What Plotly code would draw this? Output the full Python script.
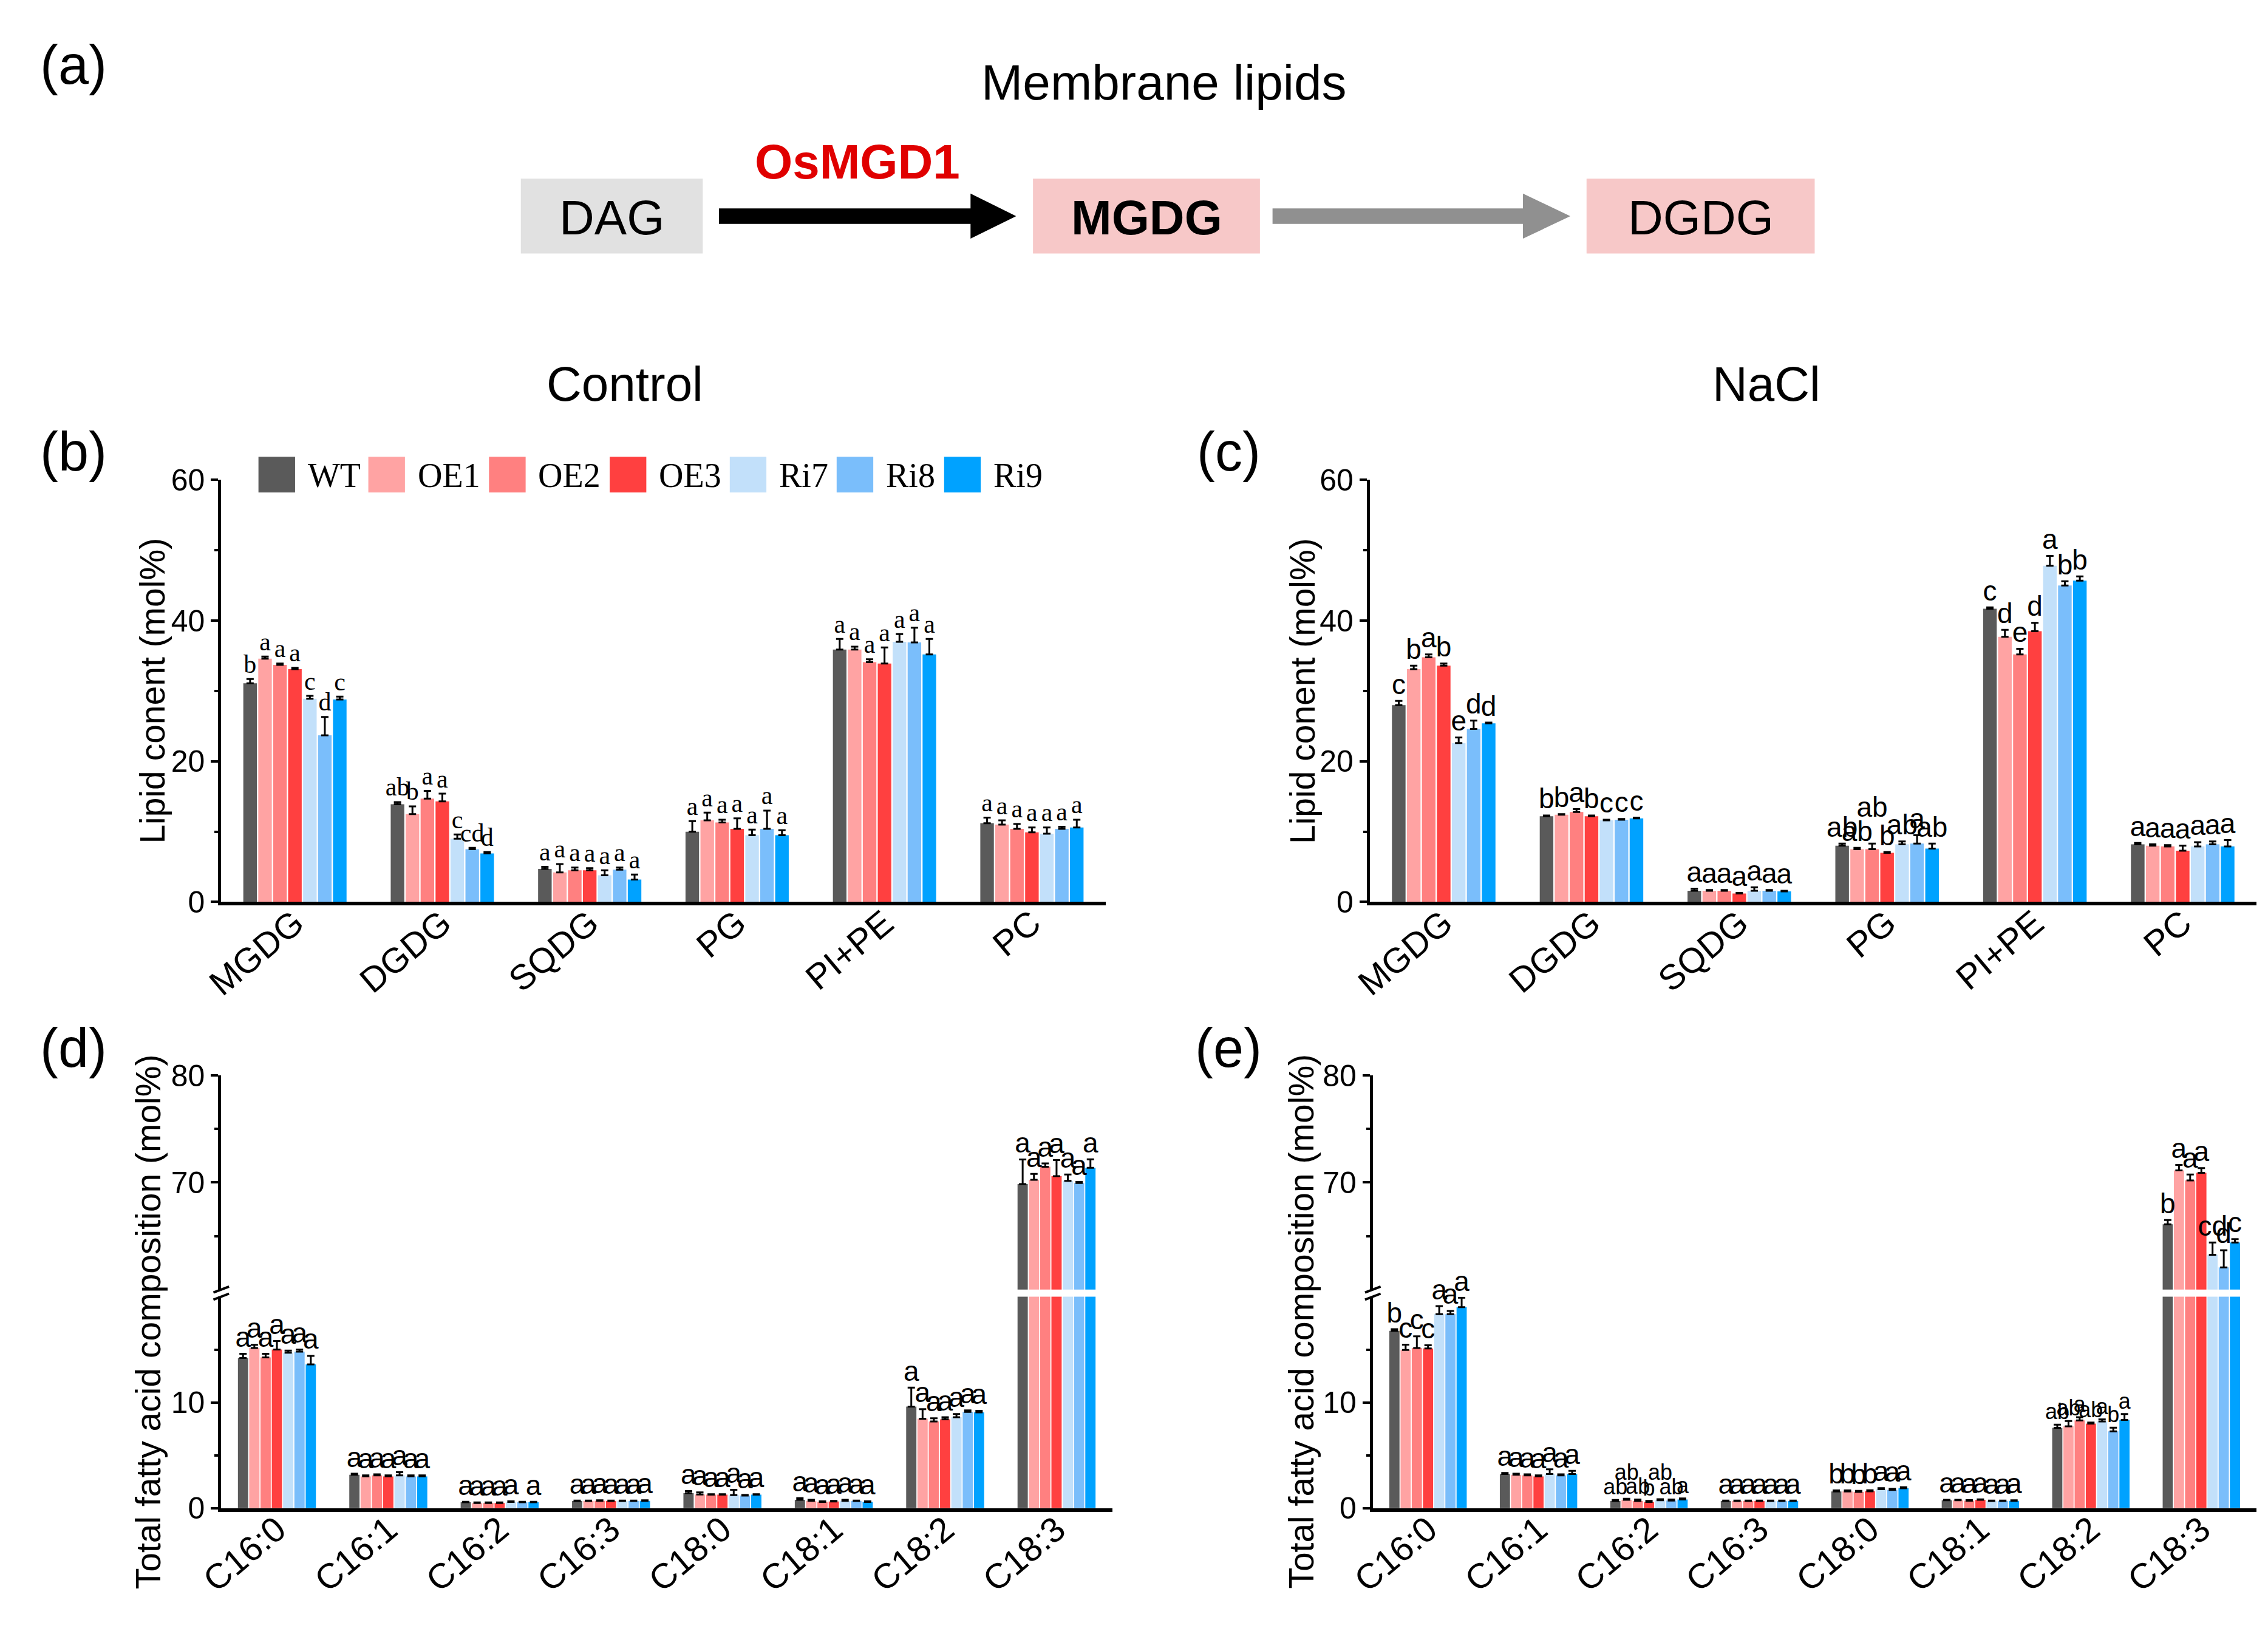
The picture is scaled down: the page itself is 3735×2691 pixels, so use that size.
import plotly.graph_objects as go

# genotypes and colours
groups = ["WT", "OE1", "OE2", "OE3", "Ri7", "Ri8", "Ri9"]
colors = ["#5a5a5a", "#ffa3a3", "#ff8080", "#ff4040", "#c2e0fa", "#7abefb", "#00a2ff"]

lipids = ["MGDG", "DGDG", "SQDG", "PG", "PI+PE", "PC"]
fatty = ["C16:0", "C16:1", "C16:2", "C16:3", "C18:0", "C18:1", "C18:2", "C18:3"]

# (b) control, lipid content (rows = lipid class, cols = genotype)
ctrl_lipid = [
    [31.1, 34.6, 33.7, 33.1, 28.9, 23.7, 28.8],
    [13.9, 12.5, 14.7, 14.3, 9.0, 7.5, 6.9],
    [4.7, 4.2, 4.5, 4.5, 3.8, 4.6, 3.2],
    [10.0, 11.6, 11.3, 10.4, 9.5, 10.4, 9.5],
    [35.9, 35.9, 34.1, 33.9, 37.0, 36.9, 35.2],
    [11.2, 11.0, 10.4, 9.9, 9.7, 10.4, 10.6],
]
ctrl_lipid_err = [
    [0.6, 0.3, 0.2, 0.2, 0.4, 2.6, 0.4],
    [0.3, 1.1, 1.1, 1.1, 0.6, 0.2, 0.2],
    [0.3, 1.2, 0.4, 0.3, 0.7, 0.3, 0.7],
    [1.5, 1.1, 0.4, 1.5, 0.8, 2.6, 0.7],
    [1.5, 0.4, 0.4, 2.3, 1.1, 2.1, 2.2],
    [0.8, 0.6, 0.7, 0.7, 0.9, 0.3, 1.1],
]
ctrl_lipid_sig = [
    ["b", "a", "a", "a", "c", "d", "c"],
    ["ab", "b", "a", "a", "c", "cd", "d"],
    ["a", "a", "a", "a", "a", "a", "a"],
    ["a", "a", "a", "a", "a", "a", "a"],
    ["a", "a", "a", "a", "a", "a", "a"],
    ["a", "a", "a", "a", "a", "a", "a"],
]

# (c) NaCl, lipid content
nacl_lipid = [
    [28.0, 33.1, 34.8, 33.6, 22.6, 24.6, 25.4],
    [12.2, 12.4, 12.8, 12.2, 11.6, 11.7, 11.9],
    [1.6, 1.6, 1.6, 1.2, 1.6, 1.6, 1.5],
    [8.0, 7.5, 7.5, 7.0, 8.2, 8.3, 7.6],
    [41.7, 37.7, 35.2, 38.5, 47.8, 45.0, 45.7],
    [8.2, 8.0, 7.9, 7.3, 7.9, 8.2, 7.9],
]
nacl_lipid_err = [
    [0.6, 0.5, 0.4, 0.3, 0.8, 1.2, 0.1],
    [0.1, 0.1, 0.4, 0.1, 0.1, 0.1, 0.1],
    [0.3, 0.1, 0.1, 0.1, 0.5, 0.1, 0.1],
    [0.3, 0.2, 0.8, 0.1, 0.4, 1.2, 0.7],
    [0.2, 1.0, 0.8, 1.2, 1.4, 0.6, 0.6],
    [0.2, 0.2, 0.2, 0.7, 0.6, 0.4, 0.9],
]
nacl_lipid_sig = [
    ["c", "b", "a", "b", "e", "d", "d"],
    ["b", "b", "a", "b", "c", "c", "c"],
    ["a", "a", "a", "a", "a", "a", "a"],
    ["ab", "ab", "ab", "b", "ab", "a", "ab"],
    ["c", "d", "e", "d", "a", "b", "b"],
    ["a", "a", "a", "a", "a", "a", "a"],
]

# (d) control, fatty acid composition
ctrl_fa = [
    [14.2, 15.15, 14.25, 15.0, 14.7, 14.8, 13.6],
    [3.16, 3.0, 3.1, 3.0, 3.1, 3.0, 3.0],
    [0.56, 0.5, 0.5, 0.5, 0.6, 0.56, 0.56],
    [0.68, 0.68, 0.7, 0.68, 0.68, 0.68, 0.7],
    [1.43, 1.3, 1.28, 1.28, 1.24, 1.2, 1.28],
    [0.8, 0.7, 0.6, 0.64, 0.7, 0.68, 0.6],
    [9.6, 8.46, 8.2, 8.4, 8.6, 9.1, 9.06],
    [69.85, 70.26, 71.48, 70.6, 70.15, 69.96, 71.37],
]
ctrl_fa_err = [
    [0.4, 0.3, 0.35, 0.8, 0.2, 0.2, 0.8],
    [0.1, 0.1, 0.1, 0.1, 0.3, 0.1, 0.1],
    [0.05, 0.05, 0.05, 0.05, 0.05, 0.05, 0.05],
    [0.05, 0.05, 0.05, 0.05, 0.05, 0.05, 0.05],
    [0.2, 0.2, 0.05, 0.05, 0.5, 0.05, 0.05],
    [0.15, 0.1, 0.05, 0.05, 0.1, 0.05, 0.05],
    [1.8, 0.9, 0.3, 0.2, 0.3, 0.15, 0.15],
    [2.3, 0.55, 0.3, 1.5, 0.6, 0.1, 0.8],
]
ctrl_fa_sig = [
    ["a", "a", "a", "a", "a", "a", "a"],
    ["a", "a", "a", "a", "a", "a", "a"],
    ["a", "a", "a", "a", "a", "", "a"],
    ["a", "a", "a", "a", "a", "a", "a"],
    ["a", "a", "a", "a", "a", "a", "a"],
    ["a", "a", "a", "a", "a", "a", "a"],
    ["a", "a", "a", "a", "a", "a", "a"],
    ["a", "a", "a", "a", "a", "a", "a"],
]

# (e) NaCl, fatty acid composition
nacl_fa = [
    [16.77, 14.96, 15.15, 15.1, 18.35, 18.35, 19.0],
    [3.23, 3.16, 3.1, 3.0, 3.23, 3.1, 3.23],
    [0.68, 0.8, 0.68, 0.6, 0.75, 0.72, 0.83],
    [0.68, 0.68, 0.68, 0.68, 0.68, 0.68, 0.68],
    [1.58, 1.58, 1.54, 1.6, 1.8, 1.73, 1.88],
    [0.75, 0.75, 0.71, 0.79, 0.68, 0.68, 0.7],
    [7.6, 7.74, 8.3, 8.0, 8.2, 7.26, 8.35],
    [66.1, 71.14, 70.2, 70.9, 63.25, 62.07, 64.4],
]
nacl_fa_err = [
    [0.15, 0.5, 1.1, 0.3, 0.75, 0.3, 0.9],
    [0.1, 0.1, 0.1, 0.1, 0.45, 0.1, 0.3],
    [0.1, 0.1, 0.15, 0.1, 0.1, 0.1, 0.1],
    [0.05, 0.05, 0.05, 0.05, 0.05, 0.05, 0.05],
    [0.1, 0.1, 0.1, 0.1, 0.1, 0.1, 0.1],
    [0.05, 0.05, 0.05, 0.05, 0.05, 0.05, 0.05],
    [0.3, 0.5, 0.3, 0.1, 0.2, 0.35, 0.55],
    [0.4, 0.5, 0.55, 0.45, 1.15, 1.6, 0.3],
]
nacl_fa_sig = [
    ["b", "c", "c", "c", "a", "a", "a"],
    ["a", "a", "a", "a", "a", "a", "a"],
    ["ab", "ab", "ab", "b", "ab", "ab", "a"],
    ["a", "a", "a", "a", "a", "a", "a"],
    ["b", "b", "b", "b", "a", "a", "a"],
    ["a", "a", "a", "a", "a", "a", "a"],
    ["ab", "ab", "a", "ab", "a", "b", "a"],
    ["b", "a", "a", "a", "cd", "d", "c"],
]

W, H = 3735, 2691
SANS = "Liberation Sans, Arial, sans-serif"
NARROW = "Liberation Sans Narrow, Arial Narrow, Liberation Sans, sans-serif"
SERIF = "Liberation Serif, Times New Roman, serif"
STEP = 0.1014
BARW = 0.092


def px(x):
    return x / W


def py(y):
    return 1 - y / H


fig = go.Figure()


def add_bars(vals, errs, xa, ya):
    n = len(vals)
    for i, g in enumerate(groups):
        fig.add_trace(go.Bar(
            x=[k + (i - 3) * STEP for k in range(n)],
            y=[row[i] for row in vals],
            width=BARW, name=g,
            marker=dict(color=colors[i], line_width=0),
            error_y=dict(type="data", symmetric=False,
                         array=[row[i] for row in errs], arrayminus=[0] * n,
                         color="black", thickness=3, width=6),
            xaxis=xa, yaxis=ya, showlegend=False))


def add_letters(vals, errs, sigs, xa, ya, family, size, keep=None,
                lift=None, small=(), small_size=36):
    lift = lift or {}
    for i in range(len(groups)):
        xs, ys, ts, ss = [], [], [], []
        for k in range(len(vals)):
            v = vals[k][i]
            if keep is not None and not keep(v):
                continue
            xs.append(k + (i - 3) * STEP)
            ys.append(v + errs[k][i] + lift.get((k, i), 0))
            ts.append(sigs[k][i])
            ss.append(small_size if k in small else size)
        fig.add_trace(go.Scatter(
            x=xs, y=ys, text=ts, mode="text", textposition="top center",
            textfont=dict(family=family, size=ss, color="black"),
            cliponaxis=False, hoverinfo="skip",
            xaxis=xa, yaxis=ya, showlegend=False))


# (b)
add_bars(ctrl_lipid, ctrl_lipid_err, "x", "y")
add_letters(ctrl_lipid, ctrl_lipid_err, ctrl_lipid_sig, "x", "y", SERIF, 42)
# (c)
add_bars(nacl_lipid, nacl_lipid_err, "x2", "y2")
add_letters(nacl_lipid, nacl_lipid_err, nacl_lipid_sig, "x2", "y2", NARROW, 46,
            lift={(3, 2): 2.8})
# (d) lower and upper parts of the broken axis
add_bars(ctrl_fa, ctrl_fa_err, "x3", "y3")
add_bars(ctrl_fa, ctrl_fa_err, "x4", "y4")
add_letters(ctrl_fa, ctrl_fa_err, ctrl_fa_sig, "x3", "y3", NARROW, 46,
            keep=lambda v: v < 20)
add_letters(ctrl_fa, ctrl_fa_err, ctrl_fa_sig, "x4", "y4", NARROW, 46,
            keep=lambda v: v > 20)
# (e)
add_bars(nacl_fa, nacl_fa_err, "x5", "y5")
add_bars(nacl_fa, nacl_fa_err, "x6", "y6")
add_letters(nacl_fa, nacl_fa_err, nacl_fa_sig, "x5", "y5", NARROW, 46,
            keep=lambda v: v < 20, lift={(2, 1): 1.3, (2, 4): 1.3},
            small=(2, 6))
add_letters(nacl_fa, nacl_fa_err, nacl_fa_sig, "x6", "y6", NARROW, 46,
            keep=lambda v: v > 20)

tickfont = dict(family=SANS, size=50, color="black")
ybase = dict(showline=True, linecolor="black", linewidth=5, ticks="outside",
             ticklen=12, tickwidth=4, tickcolor="black", tickfont=tickfont,
             showgrid=False, zeroline=False, fixedrange=True)


def xaxis_cfg(cats, dom, anchor):
    return dict(domain=dom, anchor=anchor, range=[-0.5, len(cats) - 0.5],
                tickvals=list(range(len(cats))), ticktext=cats,
                tickangle=-40, ticks="", ticklabelstandoff=-28,
                showline=True, linecolor="black",
                linewidth=6, showgrid=False, zeroline=False,
                tickfont=dict(family=SANS, size=58, color="black"))


def minor(vals):
    return dict(tickvals=vals, ticks="outside", ticklen=6, tickwidth=4,
                tickcolor="black", showgrid=False)


dom_b = [px(326), px(1799)]
dom_c = [px(2239), px(3716)]
dom_d = [px(326), px(1810)]
dom_e = [px(2244), px(3716)]
y_bc = [py(1489), py(779)]
y_low = [py(2509), py(2153)]
y_up = [py(2141), py(1781)]

fig.update_layout(
    width=W, height=H, margin=dict(l=0, r=0, t=0, b=0),
    paper_bgcolor="white", plot_bgcolor="white", barmode="overlay",
    showlegend=False,
    xaxis=xaxis_cfg(lipids, dom_b, "y"),
    yaxis=dict(ybase, domain=y_bc, range=[0, 60], tickvals=[0, 20, 40, 60],
               minor=minor([10, 30, 50]), anchor="x"),
    xaxis2=xaxis_cfg(lipids, dom_c, "y2"),
    yaxis2=dict(ybase, domain=y_bc, range=[0, 60], tickvals=[0, 20, 40, 60],
                minor=minor([10, 30, 50]), anchor="x2"),
    xaxis3=xaxis_cfg(fatty, dom_d, "y3"),
    yaxis3=dict(ybase, domain=y_low, range=[0, 20], tickvals=[0, 10],
                minor=minor([5, 15]), anchor="x3"),
    xaxis4=dict(domain=dom_d, matches="x3", visible=False, anchor="y4"),
    yaxis4=dict(ybase, domain=y_up, range=[60, 80], tickvals=[70, 80],
                minor=minor([65, 75]), anchor="x4"),
    xaxis5=xaxis_cfg(fatty, dom_e, "y5"),
    yaxis5=dict(ybase, domain=y_low, range=[0, 20], tickvals=[0, 10],
                minor=minor([5, 15]), anchor="x5"),
    xaxis6=dict(domain=dom_e, matches="x5", visible=False, anchor="y6"),
    yaxis6=dict(ybase, domain=y_up, range=[60, 80], tickvals=[70, 80],
                minor=minor([65, 75]), anchor="x6"),
)

shapes = []
annotations = []


def note(text, x, y, size, family=SANS, color="black", angle=0, anchor="center"):
    annotations.append(dict(text=text, x=px(x), y=py(y), xref="paper",
                            yref="paper", showarrow=False, xanchor=anchor,
                            yanchor="middle", textangle=angle,
                            font=dict(family=family, size=size, color=color)))


# axis break marks on (d) and (e)
for ax_x in (326, 2244):
    for yb in (2141, 2153):
        shapes.append(dict(type="line", xref="paper", yref="paper",
                           x0=px(ax_x - 13), y0=py(yb + 5),
                           x1=px(ax_x + 13), y1=py(yb - 5),
                           line=dict(color="black", width=4)))

# legend of panel (b)
legend_x = [388, 571, 772, 973, 1173, 1351, 1530]
for g, c, lx in zip(groups, colors, legend_x):
    shapes.append(dict(type="rect", xref="paper", yref="paper",
                       x0=px(lx), x1=px(lx + 61), y0=py(800), y1=py(740),
                       fillcolor=c, line_width=0))
    note(g, lx + 80, 771, 56, family=SERIF, anchor="left")

# pathway scheme (a)
boxes = [("DAG", 825, 1128, "#e1e1e1", False),
         ("MGDG", 1678, 2056, "#f7c8c8", True),
         ("DGDG", 2600, 2980, "#f7c8c8", False)]
for label, x0, x1, fill, bold in boxes:
    shapes.append(dict(type="rect", xref="paper", yref="paper",
                       x0=px(x0), x1=px(x1), y0=py(398), y1=py(272),
                       fillcolor=fill, line_width=0))
    note("<b>%s</b>" % label if bold else label, (x0 + x1) / 2, 338, 80)


def arrow(x0, x1, head, color):
    pts = [(x0, 322), (x1 - head, 322), (x1 - head, 297), (x1, 335),
           (x1 - head, 373), (x1 - head, 348), (x0, 348)]
    path = "M " + " L ".join("%.5f,%.5f" % (px(a), py(b)) for a, b in pts) + " Z"
    shapes.append(dict(type="path", xref="paper", yref="paper", path=path,
                       fillcolor=color, line_width=0))


arrow(1155, 1650, 76, "black")
arrow(2077, 2573, 79, "#909090")
note("<b>OsMGD1</b>", 1386, 244, 80, color="#e00000")
note("Membrane lipids", 1896, 110, 82)

# titles and panel labels
note("Control", 998, 618, 80)
note("NaCl", 2900, 618, 80)
for lab, x, y in [("(a)", 80, 81), ("(b)", 80, 731), ("(c)", 2004, 731),
                  ("(d)", 80, 1735), ("(e)", 2004, 1735)]:
    note(lab, x, y, 90)

# y axis titles
note("Lipid conent (mol%)", 211, 1134, 57, angle=-90)
note("Lipid conent (mol%)", 2127, 1134, 57, angle=-90)
note("Total fatty acid composition (mol%)", 204, 2195, 57, angle=-90)
note("Total fatty acid composition (mol%)", 2124, 2195, 57, angle=-90)

fig.update_layout(shapes=shapes, annotations=annotations)

# the page body margin would otherwise shift the figure inside the window
fig.write_html("out.html", config={"displayModeBar": False},
               post_script="document.body.style.margin='0px';")
